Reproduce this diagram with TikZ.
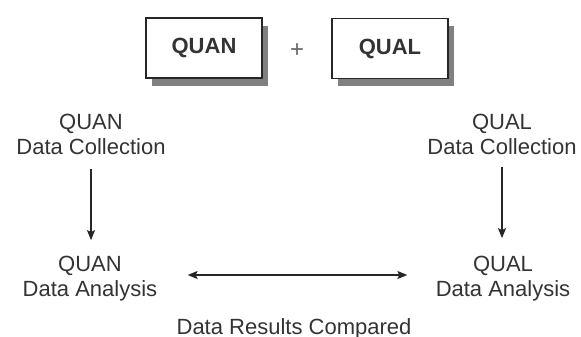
\documentclass[tikz,border=0pt]{standalone}
\usepackage{fontspec}
\setmainfont{Liberation Sans}
\usetikzlibrary{arrows.meta,shadows}

\begin{document}
\begin{tikzpicture}
  [x=0.5pt,y=-0.5pt,
   every node/.style={font=\fontsize{11}{12.5}\selectfont,text=black!80,align=center,inner sep=0pt},
   method/.style={draw=black!85,line width=0.7pt,fill=white,minimum width=58pt,minimum height=30pt,
     font=\fontsize{11}{12}\selectfont\bfseries,
     drop shadow={shadow xshift=3pt,shadow yshift=-4pt,fill=black!50,opacity=1}},
   arr/.style={line width=0.7pt,draw=black!85,>={Stealth[length=5pt,width=4pt,inset=1pt]}}]
    \useasboundingbox (0,0) rectangle (581,336);

    \node (quan) [method] at (204,48)   {QUAN};
    \node (plus) [text=black!60,font=\fontsize{12}{12}\selectfont] at (297,51) {+};
    \node (qual) [method] at (390,48.5) {QUAL};

    \node (qncoll) at (91,134)  {QUAN\\Data Collection};
    \node (qlcoll) at (502,134) {QUAL\\Data Collection};
    \node (qnanal) at (90,279)  {QUAN\\Data Analysis};
    \node (qlanal) at (503,279) {QUAL\\Data Analysis};

    \node (results) [anchor=base] at (294,334) {Data Results Compared};

    \draw[arr,->,shorten <=7pt,shorten >=8pt] (qncoll.south) -- (qncoll.south |- qnanal.north);
    \draw[arr,->,shorten <=6pt,shorten >=9pt] (qlcoll.south) -- (qlcoll.south |- qlanal.north);
    \draw[arr,<->,shorten <=15pt,shorten >=14pt]
      ([yshift=2pt]qnanal.east) -- ([yshift=2pt]qlanal.west);
  \end{tikzpicture}
\end{document}
